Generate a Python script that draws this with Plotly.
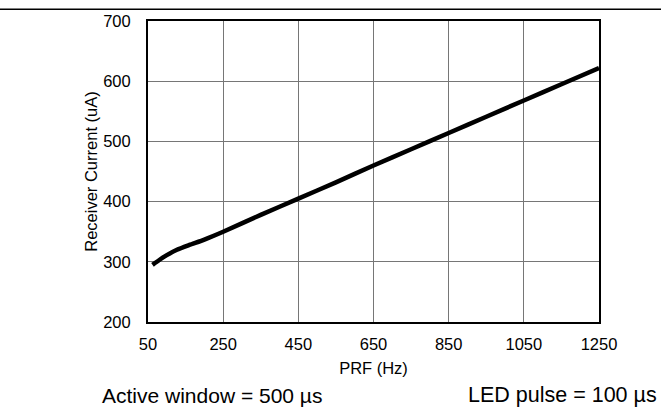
import plotly.graph_objects as go

prf_hz = [62, 80, 100, 127, 160, 200, 250, 350, 450, 550, 650, 750, 850, 950, 1050, 1150, 1250]
current_ua = [295, 303, 311, 320, 328, 337, 350, 378, 405, 432, 460, 487, 514, 541, 568, 595, 622]

x_ticks = [50, 250, 450, 650, 850, 1050, 1250]
y_ticks = [200, 300, 400, 500, 600, 700]

fig = go.Figure()
fig.add_trace(go.Scatter(x=prf_hz, y=current_ua, mode="lines",
                         line=dict(color="black", width=4.5, shape="spline", smoothing=0.6),
                         showlegend=False, hoverinfo="skip"))

L, R, T, B = 148, 72, 17, 87
W, H = 671, 409
pw, ph = W - L - R, H - T - B

fig.update_layout(
    width=W, height=H,
    margin=dict(l=L, r=R, t=T, b=B),
    plot_bgcolor="white", paper_bgcolor="white",
    font=dict(family="Liberation Sans, Arial, sans-serif", color="black", size=16),
    xaxis=dict(range=[50, 1250], tickvals=x_ticks, ticks="", showgrid=True,
               gridcolor="#767676", gridwidth=1, zeroline=False,
               showline=True, linecolor="black", linewidth=2, mirror=True,
               ticklabelstandoff=6,
               title=dict(text="PRF (Hz)", font=dict(size=16.5), standoff=11),
               tickfont=dict(size=16.5)),
    yaxis=dict(range=[200, 700], tickvals=y_ticks, ticks="", showgrid=True,
               gridcolor="#767676", gridwidth=1, zeroline=False,
               showline=True, linecolor="black", linewidth=2, mirror=True,
               ticklabelstandoff=12,
               title=dict(text="Receiver Current (uA)", font=dict(size=16.5), standoff=1),
               tickfont=dict(size=16.5)),
)

# top rule line
fig.add_shape(type="line", xref="paper", yref="paper",
              x0=(0 - L) / pw, x1=(661 - L) / pw,
              y0=1 + (T - 5) / ph, y1=1 + (T - 5) / ph,
              line=dict(color="black", width=1.5))

fig.add_annotation(text="Active window = 500 µs", xref="paper", yref="paper",
                   x=(212 - L) / pw, y=-(396 - T - ph) / ph, xanchor="center", yanchor="middle",
                   showarrow=False, font=dict(size=21))
fig.add_annotation(text="LED pulse = 100 µs", xref="paper", yref="paper",
                   x=(659 - L) / pw, y=-(396 - T - ph) / ph, xanchor="right", yanchor="middle",
                   showarrow=False, font=dict(size=21.5))

fig.write_html("out.html", post_script="document.body.style.margin='0';",
               config={"displayModeBar": False})
